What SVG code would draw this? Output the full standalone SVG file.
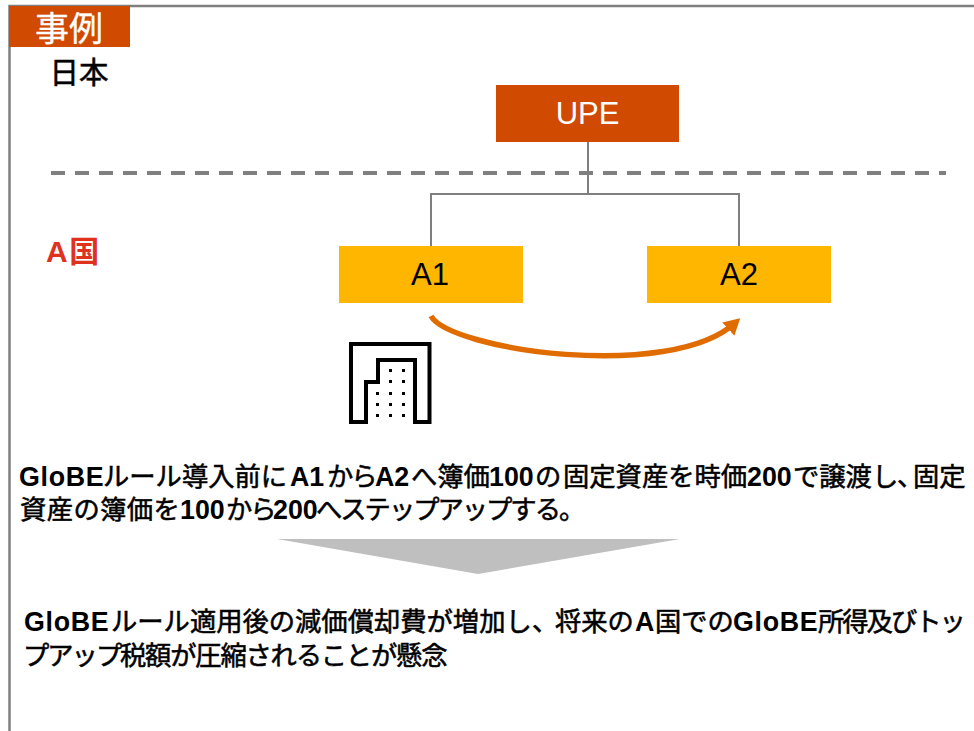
<svg xmlns="http://www.w3.org/2000/svg" width="974" height="731" viewBox="0 0 974 731">
<style>
text{font-family:"Liberation Sans","Noto Sans CJK JP",sans-serif}
.t{font-size:26.3px;fill:#000}
.l{font-weight:700;font-size:26.8px}
.g{letter-spacing:.7px}
.j{font-weight:400;stroke:#000;stroke-width:.55px}
.k{letter-spacing:-2px}
.m{letter-spacing:-1.200px}
.p{letter-spacing:.4px}
.q{letter-spacing:-11px}
.n{font-size:31px;fill:#000;text-anchor:middle}
.c{fill:none;stroke:#7f7f7f;stroke-width:2}
</style>
<defs>
<marker id="ah" markerUnits="userSpaceOnUse" markerWidth="20" markerHeight="20" refX="9" refY="9" orient="auto"><path d="M0 0L16 9L0 18Z" fill="#e06c00"/></marker>
</defs>
<rect width="974" height="731" fill="#fff"/>
<path d="M9.500 731V6H974" fill="none" stroke="#7f7f7f" stroke-width="2.500"/>
<g id="title"><rect x="9" y="6" width="121" height="41" fill="#d04a02"/><text x="69" y="41" font-size="34" fill="#fff" stroke="#fff" stroke-width=".3" text-anchor="middle">事例</text></g>
<text id="japan" x="79" y="83" font-size="29.500" text-anchor="middle" fill="#000" stroke="#000" stroke-width=".5">日本</text>
<text id="countryA" x="46" y="262" font-size="30" font-weight="700" letter-spacing="1.500" fill="#e0301e">A国</text>
<path id="border" d="M51 173H946" fill="none" stroke="#7f7f7f" stroke-width="4" stroke-dasharray="14 10"/>
<g id="connectors">
<path class="c" d="M588 142V194M431 246V194H739V246"/>
<path d="M431 316C450 350 670 382 735 323" fill="none" stroke="#e06c00" stroke-width="5.500" marker-end="url(#ah)"/>
</g>
<g id="UPE"><rect x="496" y="85" width="183" height="57" fill="#d04a02"/><text class="n" x="587.500" y="124" style="fill:#fff">UPE</text></g>
<g id="A1"><rect x="339" y="246" width="184" height="57" fill="#ffb600"/><text class="n" x="430" y="285">A1</text></g>
<g id="A2"><rect x="647" y="246" width="184" height="57" fill="#ffb600"/><text class="n" x="739" y="285">A2</text></g>
<g id="building">
<path d="M351 422V344H429.500V422H415V360H378V382H366V422Z" fill="none" stroke="#000" stroke-width="4"/>
<path d="M389 369h3v3h-3zM402 369h3v3h-3zM389 380h3v3h-3zM402 380h3v3h-3zM376 392h3v3h-3zM389 392h3v3h-3zM402 392h3v3h-3zM376 403h3v3h-3zM389 403h3v3h-3zM402 403h3v3h-3zM376 414h3v3h-3zM389 414h3v3h-3zM402 414h3v3h-3z" fill="#000"/>
</g>
<text class="t" y="486"><tspan class="l g" x="19">GloBE</tspan><tspan class="j" x="103">ルール導入前に</tspan><tspan class="l" x="290">A1</tspan><tspan class="j k" x="327">から</tspan><tspan class="l" x="375">A2</tspan><tspan class="j" x="411">へ簿価</tspan><tspan class="l" x="489">100</tspan><tspan class="j" x="535">の</tspan><tspan class="j" x="563">固定資産を時価</tspan><tspan class="l" x="747">200</tspan><tspan class="j" x="793">で譲渡し</tspan><tspan class="j q" x="897">、</tspan><tspan class="j" x="913">固定</tspan></text>
<text class="t" y="519"><tspan class="j p" x="20">資産の簿価を</tspan><tspan class="l" x="180">100</tspan><tspan class="j k" x="226">から</tspan><tspan class="l" x="273">200</tspan><tspan class="j k" x="316">へステップアップする。</tspan></text>
<path id="chevron" d="M277 539H680L478 574Z" fill="#bfbfbf"/>
<text class="t" y="631"><tspan class="l g" x="24">GloBE</tspan><tspan class="j" x="111">ルール適用後の減価償却費が増加し</tspan><tspan class="j q" x="532">、</tspan><tspan class="j" x="555">将来の</tspan><tspan class="l" x="635">A</tspan><tspan class="j" x="655">国での</tspan><tspan class="l g" x="733">GloBE</tspan><tspan class="j k" x="818">所得及びトッ</tspan></text>
<text class="t" y="665"><tspan class="j k" x="23">プアップ</tspan><tspan class="j m" x="120">税額が圧縮されることが懸念</tspan></text>
</svg>
